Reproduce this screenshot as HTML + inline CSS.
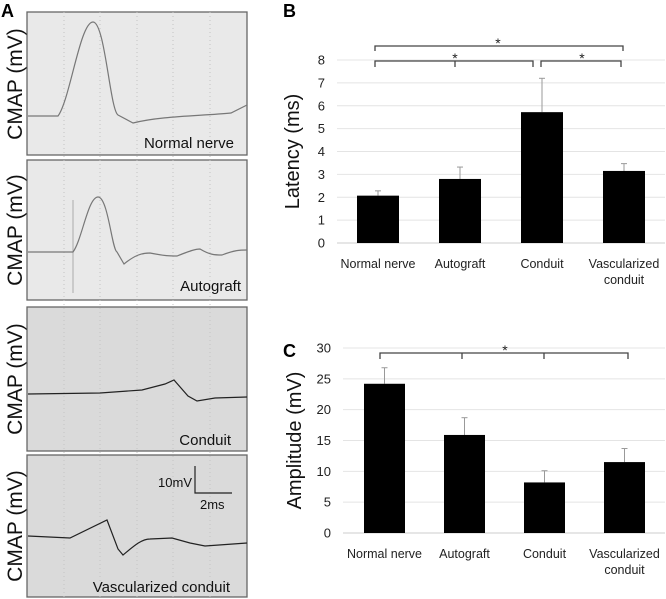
<!DOCTYPE html>
<html><head><meta charset="utf-8"><style>
body{margin:0;background:#fff;}
svg{display:block;font-family:"Liberation Sans",sans-serif;}
</style></head><body>
<svg id="fig" width="666" height="599" viewBox="0 0 666 599">
<g id="panelA">
<text x="1" y="17" font-size="18" font-weight="bold">A</text>
<rect x="27" y="12" width="220" height="143" fill="#e9e9e9" stroke="#666" stroke-width="1.3"/>
<rect x="27" y="160" width="220" height="140" fill="#e9e9e9" stroke="#666" stroke-width="1.3"/>
<rect x="27" y="307" width="220" height="144" fill="#dadada" stroke="#666" stroke-width="1.3"/>
<rect x="27" y="455" width="220" height="142" fill="#dadada" stroke="#666" stroke-width="1.3"/>
<g stroke="#c4c4c4" stroke-dasharray="1,3" stroke-width="1">
<line x1="64" y1="12" x2="64" y2="597"/><line x1="100" y1="12" x2="100" y2="597"/><line x1="137" y1="12" x2="137" y2="597"/><line x1="173" y1="12" x2="173" y2="597"/><line x1="210" y1="12" x2="210" y2="597"/>
</g>
<g fill="none" stroke="#777" stroke-width="1.2">
<path d="M28,116 L58,116 C70,100 80,22 93,22 C105,22 110,110 118,115 L133,123 C160,116 200,116 231,113 L247,105"/>
<path d="M73,200 L73,293" stroke="#aaa" stroke-width="1"/>
<path d="M28,252 L73,252 C82,240 88,197 98,197 C108,197 112,250 117,252 L124,264 C135,255 142,253 150,253 C165,256 170,256 177,256 C190,251 195,249 200,249 C210,255 215,255 222,255 C235,250 240,250 247,250"/>
<path d="M28,394 L100,393 L142,390 L165,384 L174,380 L188,396 L197,401 L215,398 L247,397" stroke="#222"/>
<path d="M28,536 L70,538 L107,520 L118,549 L123,555 C135,545 142,539 150,539 L172,538 L190,543 L205,546 L247,543" stroke="#222"/>
<path d="M195,466 L195,493 L232,493" stroke="#222"/>
</g>
<g font-size="15" fill="#111">
<text x="234" y="148" text-anchor="end">Normal nerve</text>
<text x="241" y="291" text-anchor="end">Autograft</text>
<text x="231" y="445" text-anchor="end">Conduit</text>
<text x="230" y="592" text-anchor="end">Vascularized conduit</text>
<text x="192" y="487" text-anchor="end" font-size="13">10mV</text>
<text x="200" y="509" font-size="13">2ms</text>
</g>
<g font-size="21" fill="#111">
<text transform="translate(22,84) rotate(-90)" text-anchor="middle">CMAP (mV)</text>
<text transform="translate(22,230) rotate(-90)" text-anchor="middle">CMAP (mV)</text>
<text transform="translate(22,379) rotate(-90)" text-anchor="middle">CMAP (mV)</text>
<text transform="translate(22,526) rotate(-90)" text-anchor="middle">CMAP (mV)</text>
</g>
</g>
<g id="chartB"></g>
<g id="chartC"></g>
</svg>
<script>
const categories = ["Normal nerve", "Autograft", "Conduit", "Vascularized conduit"];
const latencyValues = [2.07, 2.8, 5.72, 3.15];
const latencyErrors = [0.21, 0.52, 1.48, 0.32];
const latencyTicks = [0,1,2,3,4,5,6,7,8];
const amplitudeValues = [24.2, 15.9, 8.2, 11.5];
const amplitudeErrors = [2.6, 2.8, 1.9, 2.2];
const amplitudeTicks = [0,5,10,15,20,25,30];

const NS = "http://www.w3.org/2000/svg";
function mk(parent, tag, attrs, text){
  const e = document.createElementNS(NS, tag);
  for (const k in attrs) e.setAttribute(k, attrs[k]);
  if (text !== undefined) e.textContent = text;
  parent.appendChild(e); return e;
}
function drawChart(g, cfg){
  const yS = v => cfg.y0 - (v - 0) / cfg.max * (cfg.y0 - cfg.yTop);
  const xC = i => cfg.xFirst + i * cfg.step;
  const letter = mk(g, "text", {x: cfg.letterX, y: cfg.letterY, "font-size": 18, "font-weight": "bold"}, cfg.letter);
  
  
  cfg.ticks.forEach(t => {
    const gl = mk(g, "line", {x1: cfg.xL, x2: 665, y1: yS(t), y2: yS(t), stroke: t === 0 ? "#ccc" : "#e4e4e4", "stroke-width": 1});
    
    
    const tl = mk(g, "text", {x: cfg.xL - 12, y: yS(t) + 4.5, "font-size": 13, "text-anchor": "end", fill: "#222"}, String(t));
    
    
  });
  const yt = mk(g, "text", {transform: `translate(${cfg.titleX},${(cfg.y0 + cfg.yTop)/2}) rotate(-90)`, "font-size": 20, "text-anchor": "middle", fill: "#111"}, cfg.title);
  
  
  cfg.values.forEach((v, i) => {
    const cx = xC(i);
    const top = v + cfg.errors[i];
    const el = mk(g, "line", {x1: cx, x2: cx, y1: yS(v), y2: yS(top), stroke: "#999", "stroke-width": 1});
    
    
    const ec = mk(g, "line", {x1: cx - 3, x2: cx + 3, y1: yS(top), y2: yS(top), stroke: "#999", "stroke-width": 1});
    
    
    const b = mk(g, "rect", {x: cx - cfg.bw/2, y: yS(v), width: cfg.bw, height: yS(0) - yS(v), fill: "#000"});
    
    
    const lines = categories[i] === "Vascularized conduit" ? ["Vascularized", "conduit"] : [categories[i]];
    lines.forEach((ln, j) => {
      const t = mk(g, "text", {x: cx, y: cfg.y0 + 25 + j * 16, "font-size": 12.5, "text-anchor": "middle", fill: "#222"}, ln);
      
      
    });
  });
}
drawChart(document.getElementById("chartB"), {letter: "B", letterX: 283, letterY: 17, y0: 243, yTop: 60, max: 8, xL: 337, xFirst: 378, step: 82, bw: 42, titleX: 299, title: "Latency (ms)", values: latencyValues, errors: latencyErrors, ticks: latencyTicks});
drawChart(document.getElementById("chartC"), {letter: "C", letterX: 283, letterY: 357, y0: 533, yTop: 348, max: 30, xL: 343, xFirst: 384.5, step: 80, bw: 41, titleX: 301, title: "Amplitude (mV)", values: amplitudeValues, errors: amplitudeErrors, ticks: amplitudeTicks});

const fig = document.getElementById("fig");
function bracket(d, name){
  const p = mk(fig, "path", {d: d, fill: "none", stroke: "#444", "stroke-width": 1.3});
  
  
}
function star(x, y, name){
  const t = mk(fig, "text", {x: x, y: y, "font-size": 14, "text-anchor": "middle", fill: "#222"}, "*");
  
  
}
bracket("M375,51 L375,46 L623,46 L623,51", "bracket-normal-vascularized");
star(498, 48, "sig-star-1");
bracket("M375,67 L375,61 L533,61 L533,67 M455,61 L455,67", "bracket-normal-conduit");
star(455, 63, "sig-star-2");
bracket("M541,67 L541,61 L621,61 L621,67", "bracket-conduit-vascularized");
star(582, 63, "sig-star-3");
bracket("M380,359 L380,353 L628,353 L628,359 M462,353 L462,359 M544,353 L544,359", "bracket-amplitude");
star(505, 355, "sig-star-4");
</script>
</body></html>
